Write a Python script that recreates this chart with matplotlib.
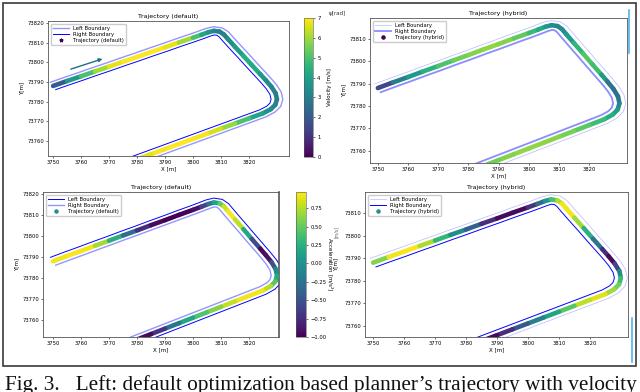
import numpy as np
import matplotlib as mpl
import matplotlib.pyplot as plt
from matplotlib.collections import LineCollection
from matplotlib.colors import Normalize
from matplotlib.cm import ScalarMappable
from matplotlib.lines import Line2D
from matplotlib.patches import Rectangle

# centerline of the track (m)
track_x = [3750, 3755, 3760, 3765, 3770, 3775, 3780, 3785, 3790, 3795, 3800, 3803,
           3805.5, 3807.5, 3809.5, 3811, 3812.5, 3815, 3818, 3821, 3824, 3826,
           3828, 3829.5, 3830, 3829.4, 3827.8, 3825, 3820, 3815, 3810, 3805,
           3800, 3795, 3790, 3785, 3780, 3775]
track_y = [73788.0, 73790.5, 73792.9, 73795.4, 73797.8, 73800.3, 73802.7, 73805.2,
           73807.6, 73810.1, 73812.5, 73814.0, 73815.3, 73816.0, 73815.6, 73814.2,
           73811.8, 73807.9, 73803.3, 73798.6, 73794.0, 73790.9, 73787.6, 73784.3,
           73781.2, 73778.4, 73776.2, 73774.1, 73771.5, 73768.9, 73766.3, 73763.7,
           73761.1, 73758.5, 73755.9, 73753.3, 73750.7, 73748.1]

vel_default = [1.0, 3.0, 4.5, 5.5, 6.5, 7.0, 7.0, 7.0, 7.0, 6.5, 5.5, 4.5,
               3.8, 3.2, 3.0, 3.0, 3.2, 3.6, 4.2, 4.5, 4.0, 3.5,
               3.2, 3.0, 3.0, 3.0, 3.2, 3.6, 4.5, 5.5, 6.3, 6.8,
               7.0, 7.0, 7.0, 6.8, 6.5, 6.5]
vel_hybrid = [0.5, 2.5, 3.5, 4.2, 4.8, 5.3, 5.6, 5.8, 5.8, 5.6, 5.0, 4.5,
              4.0, 3.5, 3.2, 3.3, 3.6, 4.2, 5.0, 5.2, 4.5, 3.0,
              2.5, 2.5, 3.0, 3.6, 4.2, 4.6, 5.0, 5.4, 5.7, 5.8,
              5.8, 5.8, 5.6, 5.3, 5.0, 4.8]
acc_default = [0.9, 0.95, 0.95, 0.9, 0.5, 0.0, -0.6, -0.9, -1.0, -1.0, -1.0, -0.8,
               -0.4, 0.0, 0.3, 0.7, 0.95, 0.95, 0.6, -0.2, -0.9, -1.0,
               -0.8, -0.2, 0.1, 0.3, 0.6, 0.9, 0.95, 0.9, 0.7, 0.5,
               0.35, 0.0, -0.5, -0.9, -1.0, -1.0]
acc_hybrid = [0.3, 0.9, 0.95, 0.95, 0.5, 0.1, -0.2, -0.6, -0.9, -1.0, -0.9, -0.5,
              -0.1, 0.2, 0.6, 0.9, 0.95, 0.9, 0.5, 0.0, -0.5, -1.0,
              -0.9, -0.3, 0.2, 0.5, 0.6, 0.8, 0.95, 0.6, 0.3, 0.0,
              -0.3, -0.6, -0.9, -1.0, -1.0, -1.0]

x_ticks = [3750, 3760, 3770, 3780, 3790, 3800, 3810, 3820]
y_ticks_left = [73760, 73770, 73780, 73790, 73800, 73810, 73820]
y_ticks_right = [73760, 73770, 73780, 73790, 73800, 73810]
vel_ticks = [0, 1, 2, 3, 4, 5, 6, 7]
acc_ticks = [-1.0, -0.75, -0.5, -0.25, 0.0, 0.25, 0.5, 0.75]

half_width = 2.1
caption = "Fig. 3.   Left: default optimization based planner\u2019s trajectory with velocity"

mpl.rcParams['font.size'] = 4
mpl.rcParams['xtick.labelsize'] = 3.8
mpl.rcParams['ytick.labelsize'] = 3.8
mpl.rcParams['xtick.major.size'] = 1.5
mpl.rcParams['ytick.major.size'] = 1.5
mpl.rcParams['xtick.major.width'] = 0.4
mpl.rcParams['ytick.major.width'] = 0.4
mpl.rcParams['xtick.major.pad'] = 1.5
mpl.rcParams['ytick.major.pad'] = 1.5
mpl.rcParams['axes.linewidth'] = 0.6
mpl.rcParams['axes.edgecolor'] = '#555555'

W, H = 640, 392


def px_rect(x0, y0, x1, y1):
    return [x0 / W, 1 - y1 / H, (x1 - x0) / W, (y1 - y0) / H]


cx = np.array(track_x)
cy = np.array(track_y)
dx = np.gradient(cx)
dy = np.gradient(cy)
L = np.hypot(dx, dy)
nx, ny = -dy / L, dx / L
left_x, left_y = cx + half_width * nx, cy + half_width * ny
right_x, right_y = cx - half_width * nx, cy - half_width * ny


def draw_panel(ax, vals, norm, left_style, right_style, traj_label, marker,
               marker_color, title, xlim, ylim, yticks):
    l1, = ax.plot(left_x, left_y, label='Left Boundary', zorder=2, **left_style)
    l2, = ax.plot(right_x, right_y, label='Right Boundary', zorder=2, **right_style)
    pts = np.column_stack([cx, cy])
    segs = np.stack([pts[:-1], pts[1:]], axis=1)
    v = np.array(vals)
    lc = LineCollection(segs, cmap='viridis', norm=norm, linewidths=3.3,
                        capstyle='round', zorder=3)
    lc.set_array((v[:-1] + v[1:]) / 2)
    ax.add_collection(lc)
    sc = ax.scatter([], [], marker=marker, color=marker_color, s=5, label=traj_label)
    ax.legend(handles=[l1, l2, sc], loc='upper left', fontsize=3.8, framealpha=1,
              borderpad=0.4, handlelength=3, labelspacing=0.2, edgecolor='#cccccc')
    ax.set_xlim(xlim)
    ax.set_ylim(ylim)
    ax.set_xticks(x_ticks)
    ax.set_yticks(yticks)
    ax.ticklabel_format(useOffset=False, style='plain')
    ax.set_title(title, fontsize=4.5, pad=2)
    ax.set_xlabel('X [m]', fontsize=4, labelpad=1)
    ax.set_ylabel('Y[m]', fontsize=4, labelpad=2)


fig = plt.figure(figsize=(6.4, 3.92), dpi=100)

vel_norm = Normalize(0, 7)
acc_norm = Normalize(-1.0, 0.97)

light = dict(color='#7b7bff', lw=1.0, alpha=0.8)
dark = dict(color='#0000ff', lw=0.7)
faint = dict(color='#b8b8ff', lw=0.5)
thick = dict(color='#6f6fff', lw=1.3, alpha=0.8)

ax1 = fig.add_axes(px_rect(48, 21, 289, 156))
draw_panel(ax1, vel_default, vel_norm, light, dark, 'Trajectory (default)', '*',
           '#440154', 'Trajectory (default)', (3748.2, 3834.3), (73752.4, 73821.0),
           y_ticks_left)
ax1.annotate('', xy=(3768.6, 73802.2), xytext=(3755.4, 73796.1),
             arrowprops=dict(arrowstyle='-|>', color='#1f6e80', lw=1.0,
                             mutation_scale=5))
cax1 = fig.add_axes(px_rect(304, 18, 313, 157))
cb1 = fig.colorbar(ScalarMappable(norm=vel_norm, cmap='viridis'), cax=cax1)
cb1.set_ticks(vel_ticks)
cb1.ax.tick_params(labelsize=3.8, length=1.5, width=0.4)
cb1.outline.set_linewidth(0.4)
cb1.set_label('Velocity [m/s]', fontsize=4, labelpad=5)

ax2 = fig.add_axes(px_rect(370, 18, 627, 163))
draw_panel(ax2, vel_hybrid, vel_norm, faint, thick, 'Trajectory (hybrid)', 'o',
           '#440154', 'Trajectory (hybrid)', (3747.4, 3832.5), (73754.6, 73819.2),
           y_ticks_right)

ax3 = fig.add_axes(px_rect(43, 192, 279, 337))
draw_panel(ax3, acc_default, acc_norm, dark, light, 'Trajectory (default)', 'o',
           '#21918c', 'Trajectory (default)', (3746.4, 3830.7), (73751.9, 73821.0),
           y_ticks_left)
ax3.spines['right'].set_linewidth(1.2)
cax3 = fig.add_axes(px_rect(296, 192, 306, 337))
cb3 = fig.colorbar(ScalarMappable(norm=acc_norm, cmap='viridis'), cax=cax3)
cb3.set_ticks(acc_ticks)
cb3.ax.tick_params(labelsize=3.8, length=1.5, width=0.4)
cb3.outline.set_linewidth(0.4)
cb3.set_label('Acceleration [m/s$^2$]', fontsize=4, rotation=270, labelpad=6)

ax4 = fig.add_axes(px_rect(365, 192, 628, 337))
draw_panel(ax4, acc_hybrid, acc_norm, faint, dark, 'Trajectory (hybrid)', 'o',
           '#21918c', 'Trajectory (hybrid)', (3747.4, 3832.3), (73755.1, 73819.3),
           y_ticks_right)
ax4.yaxis.labelpad = 4

# stray bits of the screenshot
fig.text(337 / W, 1 - 13 / H, '\u03c8[rad]', fontsize=4, ha='center', va='center',
         color='#333333')
fig.text(336 / W, 1 - 232 / H, '[m/s]', fontsize=3.3, rotation=90, ha='center',
         va='center', color='#666666')
fig.add_artist(Line2D([629 / W, 629 / W], [1 - 10 / H, 1 - 53 / H],
                      transform=fig.transFigure, color='#4fb3e8', lw=1.2))
fig.add_artist(Line2D([632 / W, 632 / W], [1 - 318 / H, 1 - 362 / H],
                      transform=fig.transFigure, color='#4fb3e8', lw=1.2))
fig.add_artist(Rectangle((3 / W, 1 - 366 / H), 633 / W, 363 / H,
                         transform=fig.transFigure, fill=False, ec='#3a3a3a', lw=1.2))

fig.text(5 / W, 1 - 390 / H, caption, fontfamily='Liberation Serif', fontsize=15.35,
         va='baseline', ha='left', color='#111111')

fig.savefig('out.png', dpi=100)
